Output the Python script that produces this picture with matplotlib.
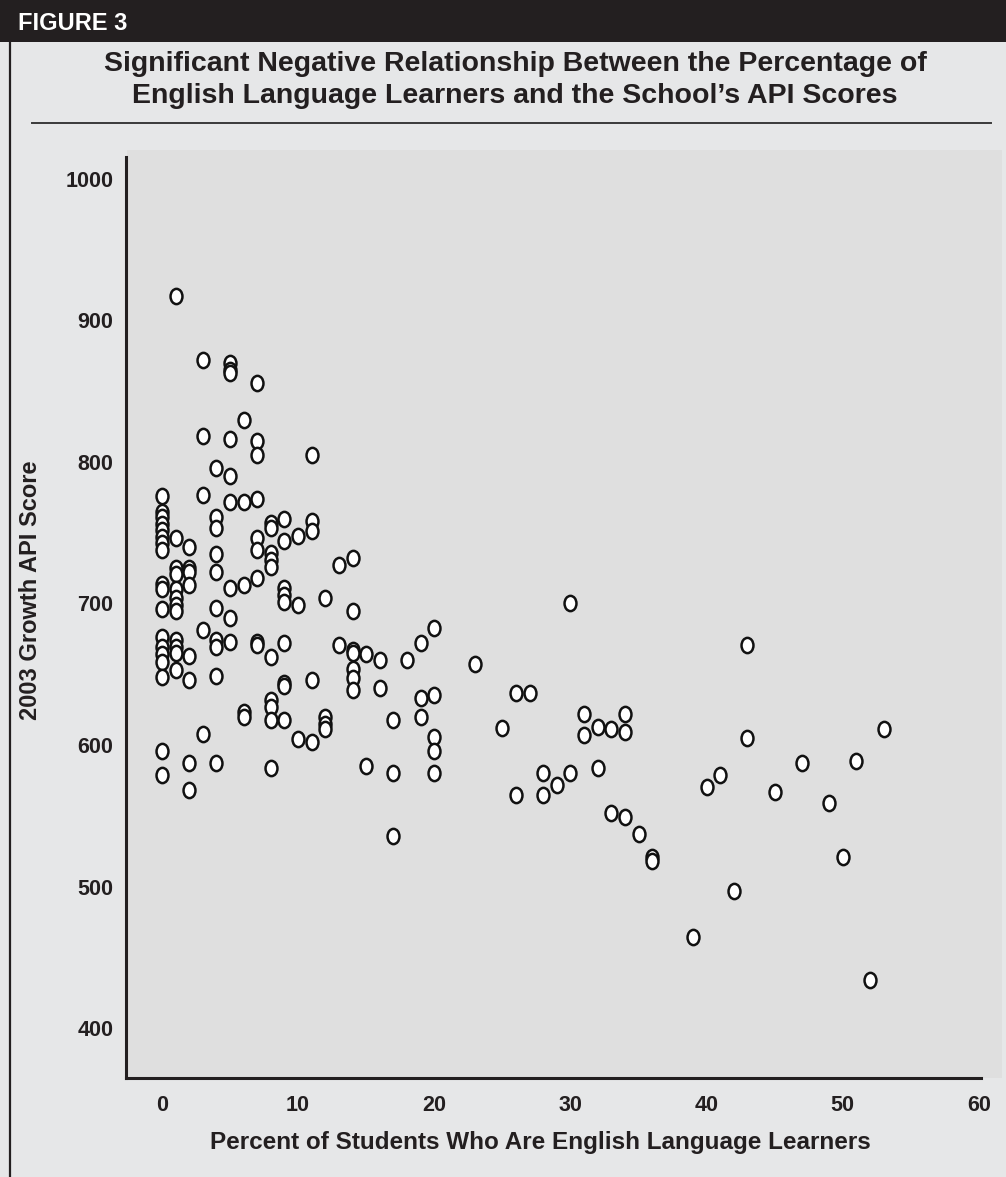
import matplotlib
matplotlib.use("Agg")
import matplotlib.pyplot as plt
from matplotlib.markers import MarkerStyle
from matplotlib.patches import Rectangle
from matplotlib.lines import Line2D
from matplotlib.transforms import Affine2D

# percent of English language learners (x) and 2003 growth API score (y), one pair per school
pct_ell = [0]*18 + [1]*12 + [2]*8 + [3]*5 + [4]*10 + [5]*9 + [6]*5 + [7]*9 + [8]*10 + [9]*9 \
    + [10]*3 + [11]*5 + [12]*4 + [13]*2 + [14]*7 + [15]*2 + [16]*2 + [17]*3 + [18] + [19]*3 \
    + [20]*5 + [23] + [25] + [26]*2 + [27] + [28]*2 + [29] + [30]*2 + [31]*2 + [32]*2 + [33]*2 \
    + [34]*3 + [35] + [36]*2 + [39] + [40] + [41] + [42] + [43]*2 + [45] + [47] + [49] + [50] \
    + [51] + [52] + [53]
api_score = [
    776, 765, 761, 756, 752, 747, 743, 738, 714, 710, 696, 676, 669, 664, 659, 648, 596, 579,  # 0
    917, 746, 725, 721, 710, 704, 699, 695, 674, 669, 665, 653,  # 1
    740, 725, 722, 713, 663, 646, 587, 568,  # 2
    872, 818, 777, 681, 608,  # 3
    796, 761, 753, 735, 722, 697, 674, 669, 649, 587,  # 4
    870, 865, 863, 816, 790, 772, 711, 690, 673,  # 5
    830, 772, 713, 623, 620,  # 6
    856, 815, 805, 774, 746, 738, 718, 673, 671,  # 7
    757, 753, 736, 731, 726, 662, 632, 627, 618, 584,  # 8
    760, 744, 711, 706, 701, 672, 644, 642, 618,  # 9
    748, 699, 604,  # 10
    805, 758, 751, 646, 602,  # 11
    704, 620, 615, 611,  # 12
    727, 671,  # 13
    732, 695, 667, 665, 654, 647, 639,  # 14
    664, 585,  # 15
    660, 640,  # 16
    618, 580, 536,  # 17
    660,  # 18
    672, 633, 620,  # 19
    683, 635, 606, 596, 580,  # 20
    657, 612, 637, 565, 637, 580, 565, 572, 700, 580,  # 23-30
    622, 607, 613, 584, 611, 552, 622, 609, 549, 537, 521, 518,  # 31-36
    464, 570, 579, 497, 671, 605, 567, 587, 559, 521, 589, 434, 611,  # 39-53
]

x_ticks = [0, 10, 20, 30, 40, 50, 60]
y_ticks = [400, 500, 600, 700, 800, 900, 1000]

W, H = 1006, 1177
INK = "#231f20"
BG = "#e6e7e8"
PLOT_BG = "#dfdfdf"
FONT = "Liberation Sans"


def fx(px):
    return px / W


def fy(py):
    return 1 - py / H


fig = plt.figure(figsize=(W / 100, H / 100), dpi=100, facecolor=BG)

# header band + left rule
fig.add_artist(Rectangle((0, fy(42)), 1, fy(0) - fy(42), transform=fig.transFigure,
                         facecolor=INK, edgecolor="none", zorder=-2))
fig.text(fx(18), fy(23), "FIGURE 3", color="white", fontsize=17, fontweight="bold",
         family=FONT, ha="left", va="center")
fig.add_artist(Line2D([fx(10), fx(10)], [fy(42), 0], transform=fig.transFigure,
                      color=INK, lw=1.6))

fig.text(fx(515), fy(64), "Significant Negative Relationship Between the Percentage of",
         fontsize=20.5, fontweight="bold", family=FONT, color=INK, ha="center", va="center")
fig.text(fx(515), fy(96), "English Language Learners and the School\u2019s API Scores",
         fontsize=20.5, fontweight="bold", family=FONT, color=INK, ha="center", va="center")
fig.add_artist(Line2D([fx(32), fx(991)], [fy(123), fy(123)], transform=fig.transFigure,
                      color="#3a3a3a", lw=1.4))

# grey panel behind the scatter
fig.add_artist(Rectangle((fx(127), fy(1078)), fx(1002) - fx(127), fy(150) - fy(1078),
                         transform=fig.transFigure, facecolor=PLOT_BG, edgecolor="none",
                         zorder=-1))

ax = fig.add_axes([fx(126), fy(1078), fx(981) - fx(126), fy(157) - fy(1078)])
ax.set_facecolor("none")

ring = MarkerStyle("o", transform=Affine2D().scale(0.78, 1.0))
ax.plot(pct_ell, api_score, linestyle="none", marker=ring, markersize=11,
        markerfacecolor="white", markeredgecolor="#111111", markeredgewidth=1.8)

ax.set_xlim(-2.64, 60.15)
ax.set_ylim(364.7, 1015.5)
ax.set_xticks(x_ticks)
ax.set_yticks(y_ticks)
ax.tick_params(length=0, labelsize=15.5, colors=INK)
ax.tick_params(axis="x", pad=12)
ax.tick_params(axis="y", pad=9)
for lab in ax.get_xticklabels() + ax.get_yticklabels():
    lab.set_fontweight("bold")
    lab.set_family(FONT)

for side in ["top", "right"]:
    ax.spines[side].set_visible(False)
for side in ["left", "bottom"]:
    ax.spines[side].set_color(INK)
    ax.spines[side].set_linewidth(2.2)

fig.text(fx(540), fy(1142), "Percent of Students Who Are English Language Learners",
         fontsize=17.5, fontweight="bold", family=FONT, color=INK, ha="center", va="center")
fig.text(fx(31), fy(590), "2003 Growth API Score", rotation=90, fontsize=17,
         fontweight="bold", family=FONT, color=INK, ha="center", va="center")

fig.savefig("out.png", dpi=100, facecolor=BG)
